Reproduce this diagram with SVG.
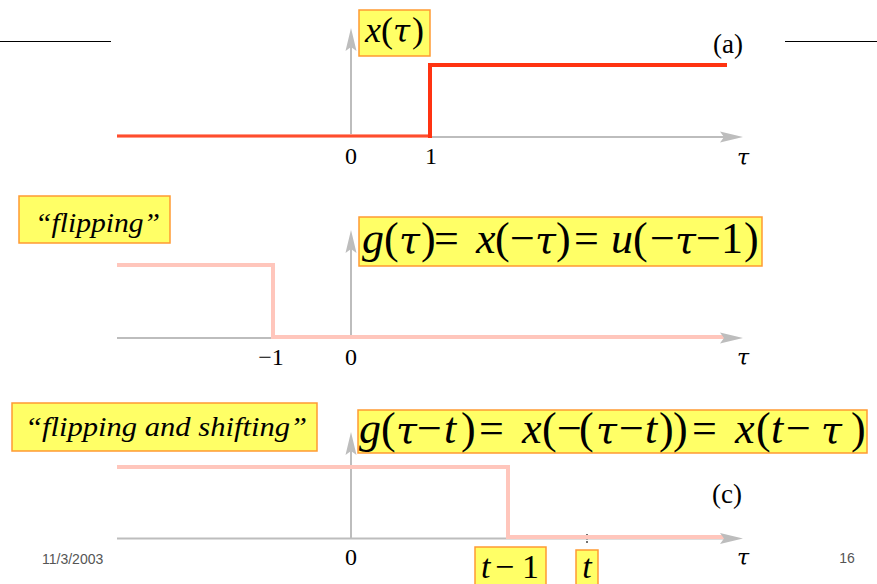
<svg xmlns="http://www.w3.org/2000/svg" width="877" height="584" viewBox="0 0 877 584">
<style>
.box{fill:#ffff66;stroke:#ff9a33;stroke-width:1.5}
.ax{stroke:#bdbdbd;stroke-width:2;fill:none}
.ah{fill:#bdbdbd}
.m{font-family:"Liberation Serif","Times New Roman",serif;fill:#000}
.i{font-style:italic}
.tau{font-family:"DejaVu Serif",serif;font-style:italic;font-size:0.86em}
.lab{font-family:"Liberation Serif","Times New Roman",serif;font-size:24px;fill:#000;text-anchor:middle}
.taul{font-family:"DejaVu Serif",serif;font-style:italic;font-size:22px;fill:#000;text-anchor:middle}
.foot{font-family:"Liberation Sans",Arial,sans-serif;font-size:14px;fill:#555}
.red{stroke:#ff3311;stroke-width:4;fill:none}
.pink{stroke:#ffc6bc;stroke-width:4;fill:none}
</style>
<rect width="877" height="584" fill="#fff"/>
<g id="rules">
<line x1="0" y1="41.5" x2="111" y2="41.5" stroke="#000" stroke-width="1"/>
<line x1="785" y1="41.5" x2="877" y2="41.5" stroke="#000" stroke-width="1"/>
</g>
<g id="connectors">
<line class="ax" x1="117" y1="137" x2="725" y2="137"/>
<line class="ax" x1="351" y1="137" x2="351" y2="45"/>
<line class="ax" x1="117" y1="338" x2="725" y2="338"/>
<line class="ax" x1="351" y1="338" x2="351" y2="247"/>
<line class="ax" x1="117" y1="538.5" x2="725" y2="538.5"/>
<line class="ax" x1="351" y1="538.5" x2="351" y2="449"/>
<line x1="587" y1="534" x2="587" y2="543" stroke="#444" stroke-width="1.5" stroke-dasharray="2,1.5"/>
</g>
<g id="signal-a">
<line x1="117" y1="136" x2="430" y2="136" stroke="#ff9a88" stroke-width="4"/>
<line x1="117" y1="136" x2="430" y2="136" stroke="#ff3311" stroke-width="1.6"/>
<polyline class="red" points="430,138 430,65 727,65"/>
</g>
<g id="signal-b">
<polyline class="pink" points="117,265 273,265 273,337 725,337"/>
</g>
<g id="signal-c">
<polyline class="pink" points="117,467 508,467 508,537 725,537"/>
</g>
<g id="arrowheads">
<path class="ah" d="M743,137 L720,131.5 L724,137 L720,142.5 Z"/>
<path class="ah" d="M351,28 L345.5,51 L351,47 L356.5,51 Z"/>
<path class="ah" d="M743,338 L720,332.5 L724,338 L720,343.5 Z"/>
<path class="ah" d="M351,230 L345.5,253 L351,249 L356.5,253 Z"/>
<path class="ah" d="M743,538.5 L720,533 L724,538.5 L720,544 Z"/>
<path class="ah" d="M351,432 L345.5,455 L351,451 L356.5,455 Z"/>
</g>
<g id="label-x">
<rect class="box" x="359" y="10" width="71" height="46"/>
<text class="m" y="42" font-size="36"><tspan class="i" x="365">x</tspan><tspan x="381">(</tspan><tspan class="tau" x="393">τ</tspan><tspan x="412">)</tspan></text>
</g>
<g id="label-a"><text class="m" x="728" y="53" font-size="27" text-anchor="middle">(a)</text></g>
<g id="label-flipping">
<rect class="box" x="19" y="196" width="151" height="47"/>
<text class="m i" x="35" y="232" font-size="28" textLength="125" lengthAdjust="spacingAndGlyphs">“flipping”</text>
</g>
<g id="label-g">
<rect class="box" x="359" y="217" width="403" height="49"/>
<text class="m" y="253" font-size="44"><tspan class="i" x="362">g</tspan><tspan x="384">(</tspan><tspan class="tau" x="399">τ</tspan><tspan x="421 434">)=</tspan><tspan class="i" x="476">x</tspan><tspan x="495 510">(−</tspan><tspan class="tau" x="535">τ</tspan><tspan x="556 574">)=</tspan><tspan class="i" x="611">u</tspan><tspan x="633 650">(−</tspan><tspan class="tau" x="675">τ</tspan><tspan x="696 721 744">−1)</tspan></text>
</g>
<g id="label-fs">
<rect class="box" x="12" y="403" width="305" height="48"/>
<text class="m i" x="25" y="436" font-size="28" textLength="282" lengthAdjust="spacingAndGlyphs">“flipping and shifting”</text>
</g>
<g id="label-gt">
<rect class="box" x="358" y="410" width="509" height="43"/>
<text class="m" y="443" font-size="44"><tspan class="i" x="359">g</tspan><tspan x="381">(</tspan><tspan class="tau" x="396">τ</tspan><tspan x="417">−</tspan><tspan class="i" x="444">t</tspan><tspan x="461 479">)=</tspan><tspan class="i" x="522">x</tspan><tspan x="542 557 579">(−(</tspan><tspan class="tau" x="596">τ</tspan><tspan x="619">−</tspan><tspan class="i" x="645">t</tspan><tspan x="659 673 692">))=</tspan><tspan class="i" x="735">x</tspan><tspan x="756">(</tspan><tspan class="i" x="771">t</tspan><tspan x="786">−</tspan><tspan class="tau" x="821">τ</tspan><tspan x="851">)</tspan></text>
</g>
<g id="label-c"><text class="m" x="727" y="503" font-size="27" text-anchor="middle">(c)</text></g>
<g id="ticks">
<text class="lab" x="351" y="164">0</text>
<text class="lab" x="431" y="164">1</text>
<text class="taul" x="743" y="165">τ</text>
<text class="lab" x="271" y="365">−1</text>
<text class="lab" x="351" y="365">0</text>
<text class="taul" x="743" y="365">τ</text>
<text class="lab" x="351" y="565">0</text>
<text class="taul" x="743" y="565">τ</text>
</g>
<g id="label-t1">
<rect class="box" x="475" y="547" width="71" height="42"/>
<text class="m" y="578" font-size="34"><tspan class="i" x="481">t</tspan><tspan x="495 522">−1</tspan></text>
</g>
<g id="label-t">
<rect class="box" x="576" y="550" width="22" height="40"/>
<text class="m i" x="587" y="578" font-size="34" text-anchor="middle">t</text>
</g>
<g id="footer">
<text class="foot" x="42" y="564">11/3/2003</text>
<text class="foot" x="847" y="563" text-anchor="middle">16</text>
</g>
</svg>
